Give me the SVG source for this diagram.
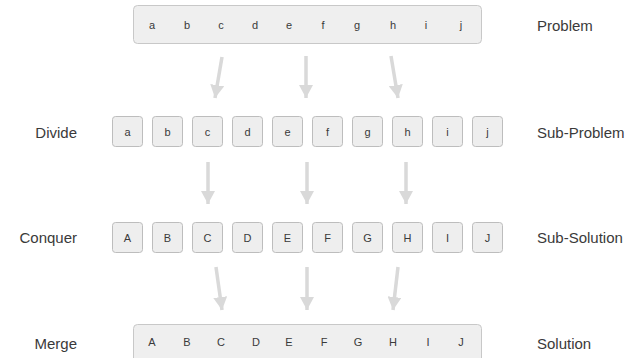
<svg xmlns="http://www.w3.org/2000/svg" width="643" height="358" viewBox="0 0 643 358">
<style>
.bar{fill:#efefef;stroke:#c8c8c8;stroke-width:1}
.box{fill:#eeeeee;stroke:#bdbdbd;stroke-width:1}
.ch{font-family:"Liberation Sans",Arial,sans-serif;font-size:11px;fill:#3a3a3a;text-anchor:middle;dominant-baseline:central}
.lbl{font-family:"Liberation Sans",Arial,sans-serif;font-size:15px;fill:#3a3a3a;dominant-baseline:central}
.l{text-anchor:end}
.arr{stroke:#d9d9d9;stroke-width:3.5;fill:none;marker-end:url(#head)}
</style>
<defs>
<marker id="head" markerUnits="userSpaceOnUse" markerWidth="14" markerHeight="14" viewBox="0 0 14 14" refX="13" refY="7" orient="auto">
<path d="M0,0 L13,7 L0,14 Z" fill="#d9d9d9"/>
</marker>
</defs>
<g id="problem">
<rect class="bar" x="133.5" y="5.5" width="348" height="38" rx="4"/>
<text class="ch" x="152" y="25">a</text><text class="ch" x="187" y="25">b</text><text class="ch" x="221" y="25">c</text><text class="ch" x="255" y="25">d</text><text class="ch" x="289" y="25">e</text><text class="ch" x="323" y="25">f</text><text class="ch" x="357" y="25">g</text><text class="ch" x="393" y="25">h</text><text class="ch" x="426" y="25">i</text><text class="ch" x="461" y="25">j</text>
</g>
<g id="subproblems">
<g id="sp-a"><rect class="box" x="112.5" y="116.5" width="30" height="30" rx="3"/><text class="ch" x="127.5" y="132">a</text></g>
<g id="sp-b"><rect class="box" x="152.5" y="116.5" width="30" height="30" rx="3"/><text class="ch" x="167.5" y="132">b</text></g>
<g id="sp-c"><rect class="box" x="192.5" y="116.5" width="30" height="30" rx="3"/><text class="ch" x="207.5" y="132">c</text></g>
<g id="sp-d"><rect class="box" x="232.5" y="116.5" width="30" height="30" rx="3"/><text class="ch" x="247.5" y="132">d</text></g>
<g id="sp-e"><rect class="box" x="272.5" y="116.5" width="30" height="30" rx="3"/><text class="ch" x="287.5" y="132">e</text></g>
<g id="sp-f"><rect class="box" x="312.5" y="116.5" width="30" height="30" rx="3"/><text class="ch" x="327.5" y="132">f</text></g>
<g id="sp-g"><rect class="box" x="352.5" y="116.5" width="30" height="30" rx="3"/><text class="ch" x="367.5" y="132">g</text></g>
<g id="sp-h"><rect class="box" x="392.5" y="116.5" width="30" height="30" rx="3"/><text class="ch" x="407.5" y="132">h</text></g>
<g id="sp-i"><rect class="box" x="432.5" y="116.5" width="30" height="30" rx="3"/><text class="ch" x="447.5" y="132">i</text></g>
<g id="sp-j"><rect class="box" x="472.5" y="116.5" width="30" height="30" rx="3"/><text class="ch" x="487.5" y="132">j</text></g>
</g>
<g id="subsolutions">
<g id="ss-A"><rect class="box" x="112.5" y="222.5" width="30" height="30" rx="3"/><text class="ch" x="127.5" y="237.5">A</text></g>
<g id="ss-B"><rect class="box" x="152.5" y="222.5" width="30" height="30" rx="3"/><text class="ch" x="167.5" y="237.5">B</text></g>
<g id="ss-C"><rect class="box" x="192.5" y="222.5" width="30" height="30" rx="3"/><text class="ch" x="207.5" y="237.5">C</text></g>
<g id="ss-D"><rect class="box" x="232.5" y="222.5" width="30" height="30" rx="3"/><text class="ch" x="247.5" y="237.5">D</text></g>
<g id="ss-E"><rect class="box" x="272.5" y="222.5" width="30" height="30" rx="3"/><text class="ch" x="287.5" y="237.5">E</text></g>
<g id="ss-F"><rect class="box" x="312.5" y="222.5" width="30" height="30" rx="3"/><text class="ch" x="327.5" y="237.5">F</text></g>
<g id="ss-G"><rect class="box" x="352.5" y="222.5" width="30" height="30" rx="3"/><text class="ch" x="367.5" y="237.5">G</text></g>
<g id="ss-H"><rect class="box" x="392.5" y="222.5" width="30" height="30" rx="3"/><text class="ch" x="407.5" y="237.5">H</text></g>
<g id="ss-I"><rect class="box" x="432.5" y="222.5" width="30" height="30" rx="3"/><text class="ch" x="447.5" y="237.5">I</text></g>
<g id="ss-J"><rect class="box" x="472.5" y="222.5" width="30" height="30" rx="3"/><text class="ch" x="487.5" y="237.5">J</text></g>
</g>
<g id="solution">
<rect class="bar" x="133.5" y="324.5" width="348" height="38" rx="4"/>
<text class="ch" x="152" y="342">A</text><text class="ch" x="187" y="342">B</text><text class="ch" x="221" y="342">C</text><text class="ch" x="256" y="342">D</text><text class="ch" x="289" y="342">E</text><text class="ch" x="324" y="342">F</text><text class="ch" x="358" y="342">G</text><text class="ch" x="393" y="342">H</text><text class="ch" x="428" y="342">I</text><text class="ch" x="461" y="342">J</text>
</g>
<g id="connectors">
<line class="arr" x1="222" y1="57" x2="215" y2="98"/>
<line class="arr" x1="306" y1="56" x2="306" y2="98"/>
<line class="arr" x1="391" y1="56" x2="398" y2="98"/>
<line class="arr" x1="208" y1="162" x2="208" y2="204"/>
<line class="arr" x1="307" y1="162" x2="307" y2="204"/>
<line class="arr" x1="406" y1="162" x2="406" y2="204"/>
<line class="arr" x1="216" y1="267" x2="222" y2="310"/>
<line class="arr" x1="307" y1="267" x2="307" y2="310"/>
<line class="arr" x1="398" y1="267" x2="393" y2="310"/>
</g>
<g id="labels">
<text class="lbl l" x="77" y="132">Divide</text>
<text class="lbl l" x="77" y="237">Conquer</text>
<text class="lbl l" x="77" y="343">Merge</text>
<text class="lbl" x="537" y="25">Problem</text>
<text class="lbl" x="537" y="132">Sub-Problem</text>
<text class="lbl" x="537" y="237">Sub-Solution</text>
<text class="lbl" x="537" y="343">Solution</text>
</g>
</svg>
